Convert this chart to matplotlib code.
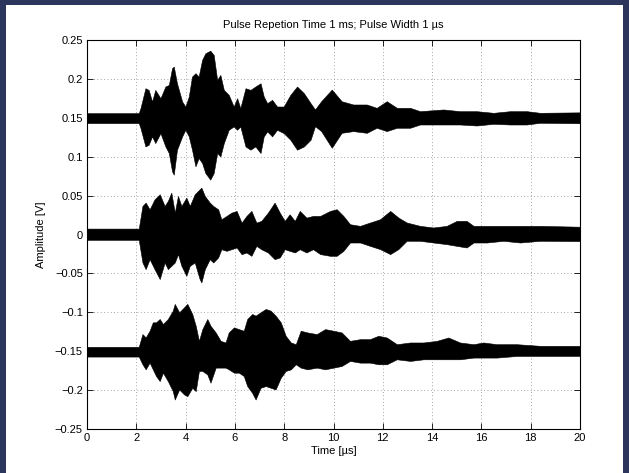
import matplotlib
matplotlib.use('Agg')
import matplotlib.pyplot as plt
from matplotlib.patches import Rectangle

# envelope of the three received signals (time in us, amplitude in V)
t_top = [0, 2.1, 2.17, 2.37, 2.5, 2.64, 2.77, 2.98, 3.18, 3.32, 3.45, 3.52, 3.65, 3.86, 3.99,
         4.13, 4.26, 4.40, 4.53, 4.67, 4.80, 5.0, 5.14, 5.28, 5.41, 5.55, 5.75, 5.95, 6.09,
         6.22, 6.43, 6.63, 6.83, 7.04, 7.17, 7.31, 7.51, 7.71, 7.98, 8.25, 8.52, 8.80, 9.07,
         9.25, 9.5, 9.93, 10.33, 10.8, 11.35, 11.75, 12.16, 12.57, 13.11, 13.51, 14.46,
         15.13, 15.81, 16.49, 17.16, 17.84, 18.38, 20]
up_top = [0.156, 0.156, 0.1624, 0.1880, 0.1859, 0.1709, 0.1859, 0.1752, 0.1902, 0.1923,
          0.2137, 0.2158, 0.1944, 0.1709, 0.1645, 0.1774, 0.2030, 0.2073, 0.2030, 0.2244,
          0.2329, 0.2363, 0.2308, 0.1987, 0.2051, 0.1859, 0.1795, 0.1645, 0.1752, 0.1624,
          0.1880, 0.1859, 0.1902, 0.1944, 0.1774, 0.1688, 0.1731, 0.1645, 0.1645, 0.1795,
          0.1902, 0.1816, 0.1688, 0.1607, 0.1713, 0.1863, 0.1713, 0.1671, 0.1671, 0.1628,
          0.1713, 0.1628, 0.1628, 0.1585, 0.1607, 0.1585, 0.1585, 0.1564, 0.1585, 0.1585,
          0.1564, 0.1570]
lo_top = [0.1432, 0.1432, 0.1368, 0.1132, 0.1154, 0.1261, 0.1175, 0.1303, 0.1132, 0.1047,
          0.0812, 0.0769, 0.1090, 0.1261, 0.1346, 0.1261, 0.1090, 0.0876, 0.0983, 0.0919,
          0.0791, 0.0705, 0.0791, 0.1047, 0.1004, 0.1175, 0.1346, 0.1389, 0.1346, 0.1389,
          0.1132, 0.1090, 0.1132, 0.1047, 0.1261, 0.1325, 0.1261, 0.1346, 0.1303, 0.1218,
          0.1090, 0.1132, 0.1218, 0.1393, 0.1329, 0.1115, 0.1307, 0.1329, 0.1307, 0.1372,
          0.1329, 0.1372, 0.1372, 0.1414, 0.1414, 0.1414, 0.1401, 0.1423, 0.1414, 0.1414,
          0.1436, 0.1430]

t_mid = [0, 2.1, 2.25, 2.38, 2.54, 2.74, 2.95, 3.15, 3.28, 3.42, 3.56, 3.69, 3.83, 4.03,
         4.17, 4.37, 4.57, 4.64, 4.78, 4.98, 5.12, 5.32, 5.45, 5.66, 5.86, 6.07, 6.27, 6.47,
         6.67, 6.87, 7.07, 7.34, 7.61, 7.82, 8.02, 8.22, 8.43, 8.63, 8.90, 9.17, 9.46, 9.86,
         10.13, 10.40, 10.67, 11.08, 11.48, 11.89, 12.30, 12.63, 12.97, 13.51, 14.05, 14.59,
         15.0, 15.4, 15.68, 16.22, 16.89, 17.57, 18.38, 20]
up_mid = [0.0076, 0.0076, 0.0367, 0.0410, 0.0324, 0.0452, 0.0517, 0.0367, 0.0431, 0.0538,
          0.0281, 0.0495, 0.0367, 0.0474, 0.0367, 0.0517, 0.0581, 0.0602, 0.0495, 0.0410,
          0.0367, 0.0324, 0.0196, 0.0239, 0.0281, 0.0303, 0.0153, 0.0239, 0.0303, 0.0153,
          0.0175, 0.0281, 0.0410, 0.0281, 0.0175, 0.0260, 0.0175, 0.0303, 0.0217, 0.0239,
          0.0239, 0.0303, 0.0325, 0.0239, 0.0132, 0.0111, 0.0154, 0.0196, 0.0303, 0.0218,
          0.0154, 0.0111, 0.0090, 0.0111, 0.0175, 0.0175, 0.0111, 0.0111, 0.0111, 0.0111,
          0.0111, 0.0100]
lo_mid = [-0.0069, -0.0069, -0.0360, -0.0445, -0.0317, -0.0445, -0.0573, -0.0360, -0.0445,
          -0.0402, -0.0360, -0.0253, -0.0402, -0.0531, -0.0402, -0.0360, -0.0573, -0.0616,
          -0.0445, -0.0317, -0.0360, -0.0295, -0.0189, -0.0210, -0.0189, -0.0167, -0.0253,
          -0.0231, -0.0274, -0.0146, -0.0189, -0.0231, -0.0317, -0.0295, -0.0189, -0.0210,
          -0.0231, -0.0189, -0.0231, -0.0189, -0.0252, -0.0274, -0.0274, -0.0210, -0.0103,
          -0.0103, -0.0146, -0.0188, -0.0252, -0.0188, -0.0081, -0.0081, -0.0103, -0.0124,
          -0.0146, -0.0167, -0.0103, -0.0103, -0.0081, -0.0103, -0.0081, -0.0085]

t_bot = [0, 2.1, 2.25, 2.38, 2.54, 2.67, 2.8, 2.95, 3.08, 3.28, 3.48, 3.56, 3.74, 3.94, 4.07,
         4.27, 4.41, 4.54, 4.68, 4.88, 5.01, 5.22, 5.42, 5.62, 5.75, 5.96, 6.16, 6.36, 6.50,
         6.70, 6.84, 7.04, 7.25, 7.45, 7.65, 7.86, 8.06, 8.27, 8.47, 8.67, 8.94, 9.32, 9.66,
         10.0, 10.33, 10.67, 11.08, 11.48, 11.82, 12.16, 12.57, 13.11, 13.65, 14.19, 14.66,
         15.13, 15.68, 16.08, 16.62, 17.43, 18.38, 20]
up_bot = [-0.1444, -0.1444, -0.1280, -0.1323, -0.1237, -0.1129, -0.1129, -0.1086, -0.1151,
          -0.1086, -0.0979, -0.0892, -0.1000, -0.0935, -0.0892, -0.1022, -0.1173, -0.1367,
          -0.1216, -0.1086, -0.1173, -0.1259, -0.1367, -0.1388, -0.1259, -0.1194, -0.1216,
          -0.1237, -0.1086, -0.1022, -0.1043, -0.1000, -0.0957, -0.0979, -0.1043, -0.1129,
          -0.1302, -0.1388, -0.1410, -0.1237, -0.1259, -0.1280, -0.1216, -0.1237, -0.1259,
          -0.1367, -0.1345, -0.1345, -0.1302, -0.1324, -0.1410, -0.1388, -0.1388, -0.1367,
          -0.1324, -0.1388, -0.1410, -0.1388, -0.1410, -0.1410, -0.1431, -0.1431]
lo_bot = [-0.1569, -0.1569, -0.1668, -0.1733, -0.1647, -0.1733, -0.1819, -0.1884, -0.1776,
          -0.1884, -0.2013, -0.2121, -0.1992, -0.2056, -0.2078, -0.1970, -0.2013, -0.1754,
          -0.1754, -0.1798, -0.1905, -0.1711, -0.1711, -0.1711, -0.1733, -0.1776, -0.1776,
          -0.1819, -0.1948, -0.2035, -0.2121, -0.1970, -0.1948, -0.1970, -0.1992, -0.1841,
          -0.1754, -0.1733, -0.1668, -0.1711, -0.1733, -0.1711, -0.1733, -0.1711, -0.1690,
          -0.1625, -0.1647, -0.1647, -0.1668, -0.1668, -0.1604, -0.1625, -0.1604, -0.1604,
          -0.1604, -0.1604, -0.1582, -0.1582, -0.1582, -0.1561, -0.1561, -0.1561]

x_ticks = [0, 2, 4, 6, 8, 10, 12, 14, 16, 18, 20]
y_ticks = [-0.25, -0.2, -0.15, -0.1, -0.05, 0, 0.05, 0.1, 0.15, 0.2, 0.25]
y_labels = ['\u22120.25', '\u22120.2', '\u22120.15', '\u22120.1', '\u22120.05', '0',
            '0.05', '0.1', '0.15', '0.2', '0.25']

plt.rcParams['font.family'] = ['Liberation Sans', 'DejaVu Sans']
plt.rcParams['font.size'] = 8

fig = plt.figure(figsize=(6.29, 4.73), dpi=100, facecolor='#2c355c')
fig.patches.append(Rectangle((6 / 629, 0), 617 / 629, 468 / 473, transform=fig.transFigure,
                             facecolor='white', edgecolor='none', zorder=-10))
ax = fig.add_axes([87 / 629, 44 / 473, 493 / 629, 389 / 473])
ax.set_zorder(1)

for t, up, lo in [(t_top, up_top, lo_top), (t_mid, up_mid, lo_mid), (t_bot, up_bot, lo_bot)]:
    ax.fill_between(t, lo, up, color='black', linewidth=0.4, zorder=3)

ax.set_xlim(0, 20)
ax.set_ylim(-0.25, 0.25)
ax.set_xticks(x_ticks)
ax.set_yticks(y_ticks)
ax.set_yticklabels(y_labels)
ax.grid(True, color='#888888', linestyle=(0, (1, 3)), linewidth=0.6)
ax.tick_params(direction='in', top=True, right=True, length=4, width=0.6, pad=3,
               labelsize=8, colors='black')
for s in ax.spines.values():
    s.set_linewidth(0.8)

ax.set_xlabel('Time [µs]', fontsize=8, labelpad=2)
ax.set_ylabel('Amplitude [V]', fontsize=8, labelpad=6)
ax.set_title('Pulse Repetion Time 1 ms; Pulse Width 1 µs', fontsize=8, pad=9)

fig.savefig('out.png', dpi=100, facecolor=fig.get_facecolor())
